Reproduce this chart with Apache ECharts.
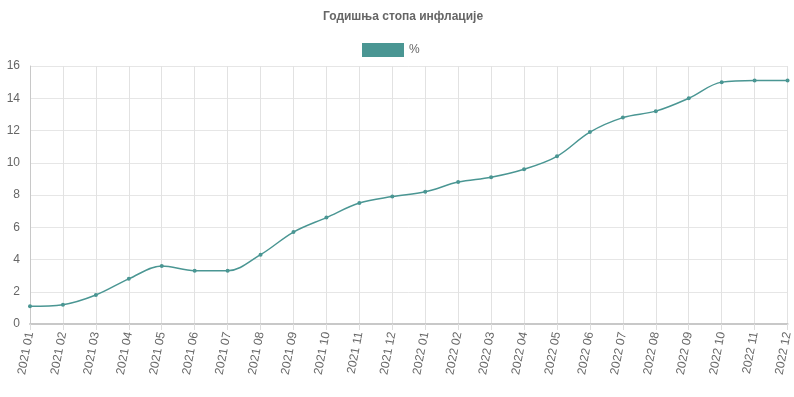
<!DOCTYPE html>
<html>
<head>
<meta charset="utf-8">
<script src="https://cdn.jsdelivr.net/npm/echarts@6/dist/echarts.min.js"></script>
<style>
    html, body { margin: 0; padding: 0; background: #fff; }
    #chart { width: 794px; height: 397px; }
</style>
</head>
<body>
<div id="chart"></div>
<script>
const months = [
    '2021 01', '2021 02', '2021 03', '2021 04', '2021 05', '2021 06',
    '2021 07', '2021 08', '2021 09', '2021 10', '2021 11', '2021 12',
    '2022 01', '2022 02', '2022 03', '2022 04', '2022 05', '2022 06',
    '2022 07', '2022 08', '2022 09', '2022 10', '2022 11', '2022 12'
];
const inflation = [
    1.1, 1.2, 1.8, 2.8, 3.6, 3.3, 3.3, 4.3, 5.7, 6.6, 7.5, 7.9,
    8.2, 8.8, 9.1, 9.6, 10.4, 11.9, 12.8, 13.2, 14.0, 15.0, 15.1, 15.1
];
const seriesName = '%';

let chart = echarts.init(document.getElementById('chart'));
let option = {
    textStyle: {
        fontFamily: 'Liberation Sans, Arial, sans-serif'
    },
    title: {
        text: 'Годишња стопа инфлације',
        left: 318,
        top: 6,
        textStyle: {
            fontSize: 12,
            fontWeight: 'bold',
            color: '#666'
        }
    },
    legend: {
        data: [seriesName],
        left: 357,
        top: 38,
        icon: 'rect',
        itemWidth: 42,
        itemHeight: 14,
        itemGap: 6,
        textStyle: {
            fontSize: 12,
            color: '#666'
        }
    },
    grid: {
        left: 30,
        right: 4,
        top: 66,
        bottom: 73
    },
    xAxis: {
        type: 'category',
        boundaryGap: false,
        data: months,
        axisLine: {
            lineStyle: { color: '#c8c8c8', width: 2 }
        },
        axisTick: {
            show: true,
            length: 6,
            lineStyle: { color: '#ddd' }
        },
        splitLine: {
            show: true,
            lineStyle: { color: '#e2e2e2' }
        },
        axisLabel: {
            rotate: 79,
            interval: 0,
            fontSize: 12,
            color: '#666',
            margin: 8
        }
    },
    yAxis: {
        type: 'value',
        min: 0,
        max: 16,
        interval: 2,
        axisLine: {
            show: true,
            lineStyle: { color: '#c8c8c8' }
        },
        axisTick: { show: false },
        splitLine: {
            lineStyle: { color: '#e6e6e6' }
        },
        axisLabel: {
            fontSize: 12,
            color: '#666',
            margin: 10
        }
    },
    series: [
        {
            name: seriesName,
            type: 'line',
            data: inflation,
            smooth: 0.35,
            symbol: 'circle',
            symbolSize: 4,
            lineStyle: { color: '#4a9693', width: 1.5 },
            itemStyle: { color: '#4a9693' }
        }
    ]
};
chart.setOption(option);
</script>
</body>
</html>
